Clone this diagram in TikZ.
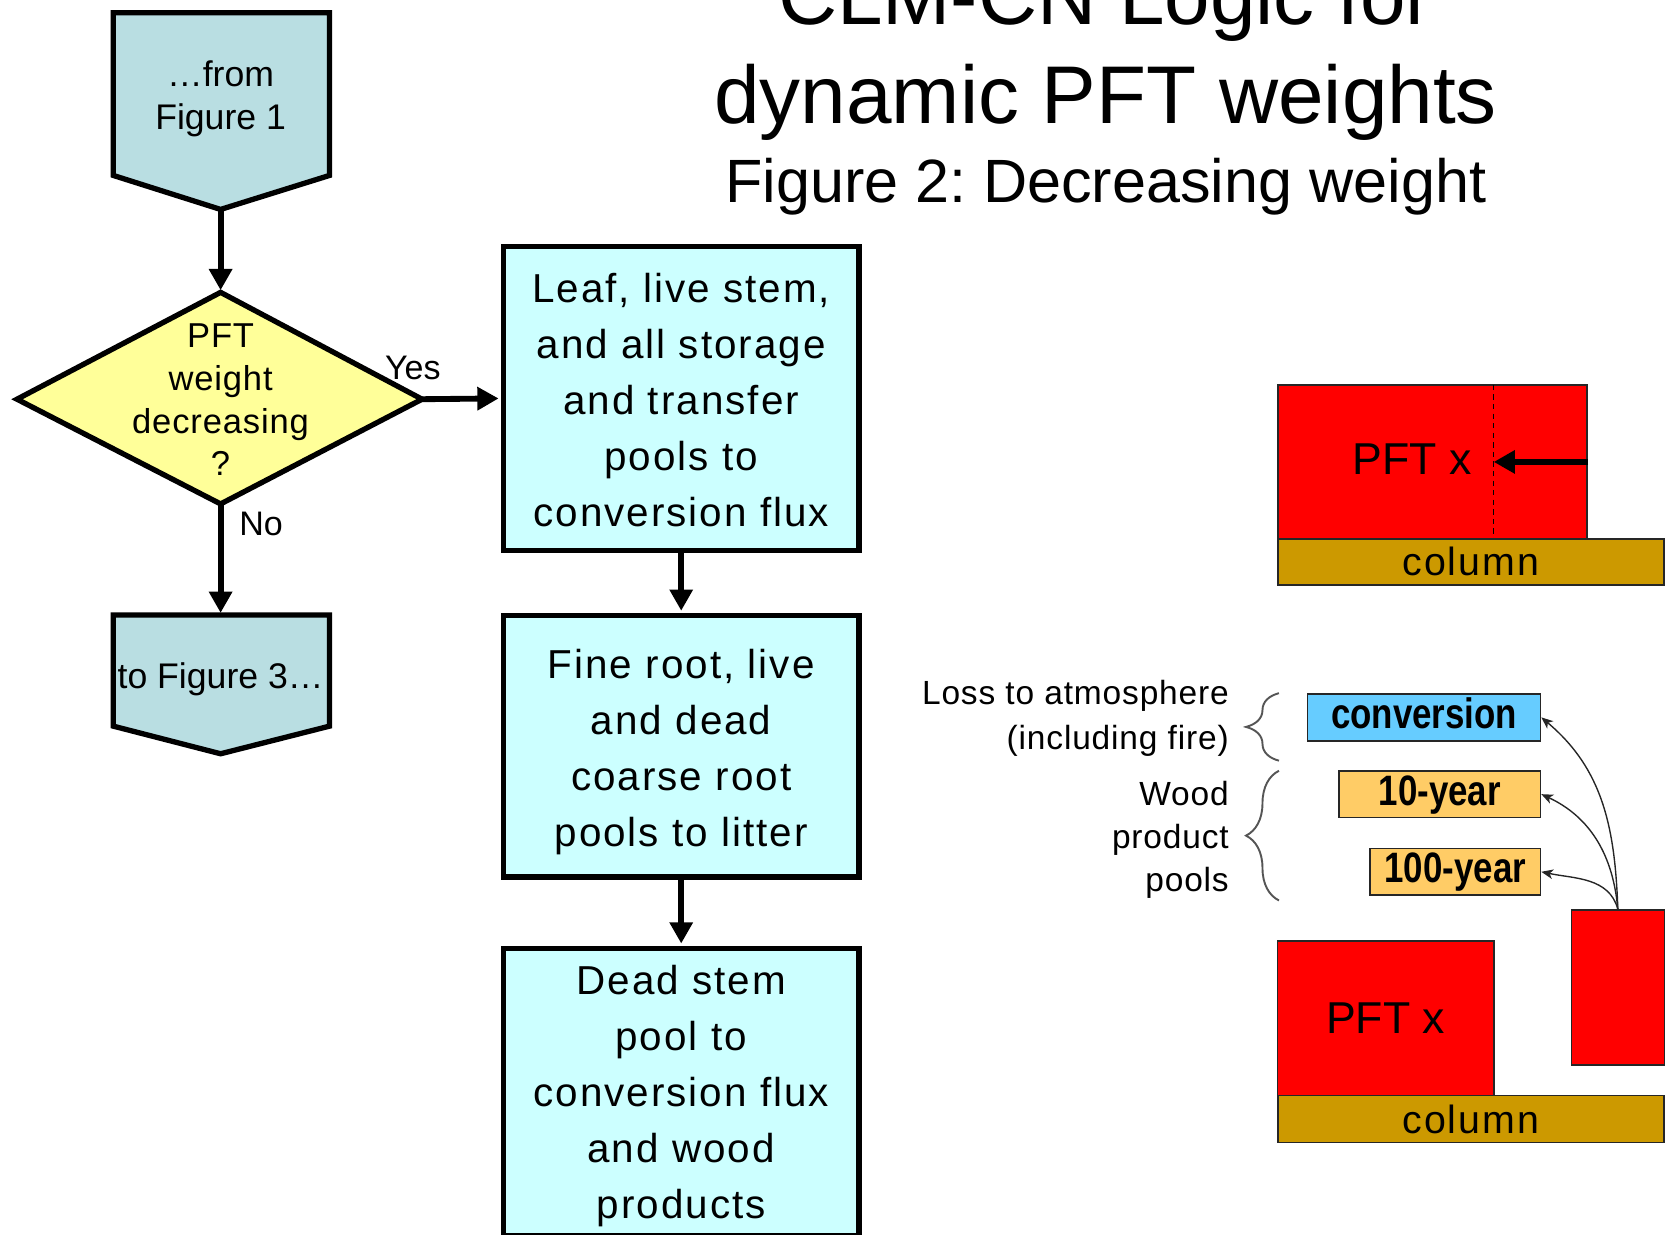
\documentclass[tikz,border=0pt]{standalone}
\usepackage{fontspec}
\usepackage{graphicx}
\setmainfont{Liberation Sans}
\newfontfamily\wideface[LetterSpace=5.0]{Liberation Sans}
\newfontfamily\midface[LetterSpace=2.5]{Liberation Sans}
\usetikzlibrary{arrows.meta,decorations.pathreplacing}
\frenchspacing

% palette
\definecolor{pentfill}{RGB}{185,222,226}
\definecolor{procfill}{RGB}{204,255,255}
\definecolor{decfill}{RGB}{255,255,153}
\definecolor{colfill}{RGB}{204,153,0}
\definecolor{convfill}{RGB}{102,204,255}
\definecolor{woodfill}{RGB}{255,204,102}
\definecolor{braceclr}{RGB}{85,85,85}

% type sizes (one unit = one pt of the drawing)
\newcommand\procfont{\wideface\fontsize{38}{52.7}\selectfont}
\newcommand\decfont{\midface\fontsize{32.5}{40.3}\selectfont}
\newcommand\termfont{\fontsize{33.5}{40}\selectfont}
\newcommand\notefont{\midface\fontsize{31.5}{42.4}\selectfont}
\newcommand\woodfont{\midface\fontsize{31.5}{40.3}\selectfont}
\newcommand\tagfont{\fontsize{32}{38}\selectfont}
\newcommand\pftfont{\fontsize{42}{50}\selectfont}
\newcommand\colfont{\wideface\fontsize{37}{44}\selectfont}
\newcommand\poolfont{\bfseries\fontsize{40}{48}\selectfont}
\newcommand\squeezed[1]{\scalebox{0.82}[1]{#1}}

\begin{document}
\begin{tikzpicture}[x=1pt,y=-1pt,
  flowborder/.style={draw=black, line width=5pt, line join=miter},
  flowarrow/.style={line width=5.5pt, shorten >=2pt, -{Triangle[length=20pt,width=21pt]}},
  procbox/.style={flowborder, fill=procfill, minimum width=334.5pt, inner sep=0pt},
  proctext/.style={inner sep=0pt, align=center, font=\procfont},
  thinbox/.style={draw=black!85, line width=1.5pt},
  redblock/.style={thinbox, fill=red, inner sep=0pt},
  colblock/.style={thinbox, fill=colfill, inner sep=0pt, font=\colfont},
  poolbox/.style={thinbox, inner sep=0pt, minimum height=44pt, text height=20.8pt, text depth=0pt, font=\poolfont},
  feed/.style={line width=1.3pt, black!85, -{Stealth[length=11pt,width=9pt,inset=3pt]}},
  groupbrace/.style={draw=braceclr, line width=1.8pt, decorate, decoration={brace, amplitude=31pt}},
]
\useasboundingbox (0,0) rectangle (1568,1161);

% ---- title ----
\node[anchor=base, font=\fontsize{77}{92}\selectfont] (ttlA) at (1040,23.5) {CLM-CN Logic for};
\node[anchor=base, font=\fontsize{77}{92}\selectfont] (ttlB) at (1040,116) {dynamic PFT weights};
\node[anchor=base, font=\fontsize{57.5}{69}\selectfont] (ttlC) at (1040,190.7) {Figure 2: Decreasing weight};

% ---- flow chart ----
\path[flowborder, fill=pentfill] (106.5,12) -- (310,12) -- (310,165) -- (207.5,197) -- (106.5,165) -- cycle;
\coordinate (srcTip) at (207.5,197);
\node[font=\termfont, align=center, inner sep=0pt] (src) at (207.5,93) {…from\\Figure 1};

\path[flowborder, fill=decfill] (207.5,275) -- (397,375.5) -- (207.5,474) -- (16,375.5) -- cycle;
\coordinate (decT) at (207.5,275);
\coordinate (decR) at (397,375.5);
\coordinate (decB) at (207.5,474);
\node[font=\decfont, align=center, inner sep=0pt] (dec) at (207.5,376) {PFT\\weight\\decreasing\\?};

\path[flowborder, fill=pentfill] (106.5,578.5) -- (310,578.5) -- (310,683) -- (207.5,709) -- (106.5,683) -- cycle;
\coordinate (dstTop) at (207.5,578.5);
\node[font=\termfont, inner sep=0pt] (dst) at (207.5,639) {to Figure 3…};

\node[procbox, minimum height=285.5pt] (leaf) at (640.75,374.75) {};
\node[proctext] (leafTxt) at (640.75,376.5)
  {Leaf, live stem,\\and all storage\\and transfer\\pools to\\conversion flux};
\node[procbox, minimum height=246pt] (root) at (640.75,702) {};
\node[proctext] (rootTxt) at (640.75,707)
  {Fine root, live\\and dead\\coarse root\\pools to litter};
\node[procbox, minimum height=270pt] (stem) at (640.75,1027) {};
\node[proctext] (stemTxt) at (640.75,1031)
  {Dead stem\\pool to\\conversion flux\\and wood\\products};

\draw[flowarrow] (srcTip) -- (decT);
\draw[flowarrow] (decR) -- (leaf.west);
\draw[flowarrow] (decB) -- (dstTop);
\draw[flowarrow] (leaf.south) -- (root.north);
\draw[flowarrow] (root.south) -- (stem.north);

\node[anchor=base west, font=\tagfont, inner sep=0pt] (yes) at (362,357) {Yes};
\node[anchor=base west, font=\tagfont, inner sep=0pt] (no) at (225,504) {No};

% ---- shrinking PFT on its column ----
\node[redblock, minimum width=291pt, minimum height=145pt] (pftA) at (1347.5,434.5) {};
\coordinate (cutTop) at (1405,362);
\coordinate (cutBot) at (1405,507);
\coordinate (cutMid) at (1405,434.5);
\draw[black, line width=1.3pt, dash pattern=on 5pt off 4pt] (cutTop) -- (cutBot);
\draw[line width=6pt, -{Triangle[length=20pt,width=21pt]}] (pftA.east) -- (cutMid);
\node[font=\pftfont, inner sep=0pt] (pftAtxt) at (1328,432) {PFT x};
\node[colblock, minimum width=363pt, minimum height=43pt] (colA) at (1383.5,528.5) {column};

% ---- where the removed carbon goes ----
\node[poolbox, fill=convfill, minimum width=219pt] (conv) at (1339.5,674.75) {\squeezed{conversion}};
\node[poolbox, fill=woodfill, minimum width=189.5pt] (ten) at (1354.25,747) {\squeezed{10-year}};
\node[poolbox, fill=woodfill, minimum width=160.3pt] (hund) at (1368.85,820) {\squeezed{100-year}};

\node[anchor=north east, align=right, font=\notefont, inner sep=0pt] (lossTxt) at (1156,640)
  {Loss to atmosphere\\(including fire)};
\node[anchor=north east, align=right, font=\woodfont, inner sep=0pt] (woodTxt) at (1156,735)
  {Wood\\product\\pools};
\draw[groupbrace] (1203,715.5) -- (1203,652);
\draw[groupbrace] (1203,847) -- (1203,725);

\node[redblock, minimum width=87.5pt, minimum height=146pt] (cut) at (1521.75,929) {};
\node[redblock, minimum width=203.8pt, minimum height=145.4pt, font=\pftfont] (pftB) at (1303.4,957.9) {PFT x};
\node[colblock, minimum width=363pt, minimum height=44pt] (colB) at (1383.5,1052.5) {column};

\draw[feed] (cut.north) to[out=92,in=-40] (conv.east);
\draw[feed] (cut.north) to[out=95,in=-25] (ten.east);
\draw[feed] (cut.north) to[out=105,in=-12] (hund.east);
\end{tikzpicture}
\end{document}
